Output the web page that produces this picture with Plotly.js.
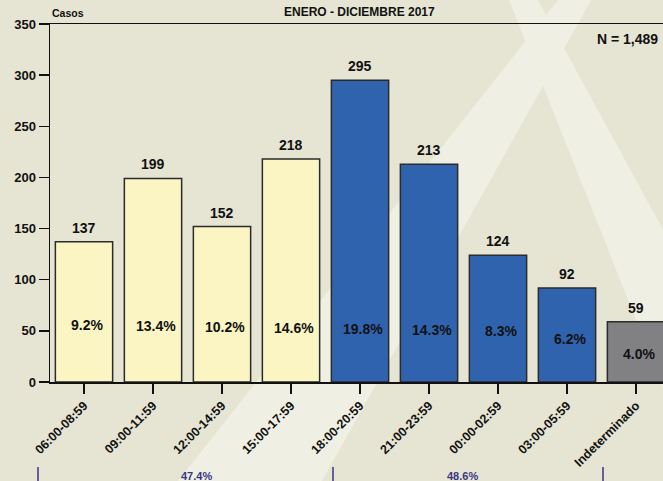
<!DOCTYPE html>
<html>
<head>
<meta charset="utf-8">
<script src="https://cdn.plot.ly/plotly-3.0.1.min.js"></script>
<style>html,body{margin:0;padding:0;background:#e6e5d3;}#chart{width:663px;height:481px;}</style>
</head>
<body>
<div id="chart"></div>
<script>
// ---- data ----
var categories = ["06:00-08:59","09:00-11:59","12:00-14:59","15:00-17:59","18:00-20:59","21:00-23:59","00:00-02:59","03:00-05:59","Indeterminado"];
var casos = [137,199,152,218,295,213,124,92,59];
var porcentajes = [9.2,13.4,10.2,14.6,19.8,14.3,8.3,6.2,4.0];
var grupos = ["diurno","diurno","diurno","diurno","nocturno","nocturno","nocturno","nocturno","indeterminado"];
var gruposPct = ["47.4%","48.6%"];
var titulo = "ENERO - DICIEMBRE 2017";
var total = "N = 1,489";
var yTicks = [0,50,100,150,200,250,300,350];

// ---- styling ----
var W = 663, H = 481, L = 50, R = 0, T = 24, B = 99;
var pw = W - L - R, ph = H - T - B;
var colorMap = {diurno:"#fbf5c4", nocturno:"#3063ae", indeterminado:"#818083"};
var font = "Liberation Sans, Arial, sans-serif";
function px(x){ return (x - L) / pw; }
function py(y){ return (H - B - y) / ph; }
function poly(pts){
  return "M" + pts.map(function(p){ return px(p[0]).toFixed(4) + "," + py(p[1]).toFixed(4); }).join(" L") + " Z";
}

var trace = {
  type: "bar",
  x: categories,
  y: casos,
  marker: {color: grupos.map(function(g){ return colorMap[g]; }), line: {color: "#2b2b2b", width: 1.5}},
  hoverinfo: "skip"
};

var annotations = [];
casos.forEach(function(v, i){
  annotations.push({x: categories[i], y: v, yshift: 14, text: "<b>" + v + "</b>", showarrow: false,
    xref: "x", yref: "y", yanchor: "middle", font: {family: font, size: 14, color: "#111"}});
  annotations.push({x: categories[i], y: Math.min(56 - i * 1.1, v * 0.46), xshift: 3, text: "<b>" + porcentajes[i].toFixed(1) + "%</b>", showarrow: false,
    xref: "x", yref: "y", yanchor: "middle", font: {family: font, size: 14, color: "#111"}});
});
annotations.push({xref: "paper", yref: "paper", x: px(50), y: py(13), xanchor: "left", yanchor: "middle", showarrow: false,
  text: "<b>Casos</b>", font: {family: font, size: 10.5, color: "#111"}});
annotations.push({xref: "paper", yref: "paper", x: px(359), y: py(12), xanchor: "center", yanchor: "middle", showarrow: false,
  text: "<b>" + titulo + "</b>", font: {family: font, size: 12, color: "#111"}});
annotations.push({xref: "paper", yref: "paper", x: px(660), y: py(39), xanchor: "right", yanchor: "middle", showarrow: false,
  text: "<b>" + total + "</b>", font: {family: font, size: 14, color: "#111"}});
annotations.push({xref: "paper", yref: "paper", x: px(196), y: py(468), xanchor: "center", yanchor: "top", showarrow: false,
  text: "<b>" + gruposPct[0] + "</b>", font: {family: font, size: 11, color: "#3a3585"}});
annotations.push({xref: "paper", yref: "paper", x: px(462), y: py(468), xanchor: "center", yanchor: "top", showarrow: false,
  text: "<b>" + gruposPct[1] + "</b>", font: {family: font, size: 11, color: "#3a3585"}});

var light = "#f0efe3";
var shapes = [
  {type: "path", xref: "paper", yref: "paper", layer: "below", line: {width: 0}, fillcolor: light,
   path: poly([[562,-5],[594,-5],[322,481],[178,481]])},
  {type: "path", xref: "paper", yref: "paper", layer: "below", line: {width: 0}, fillcolor: light,
   path: poly([[507,-5],[535,-5],[800,481],[700,481]])}
];
[38, 333, 603].forEach(function(xp){
  shapes.push({type: "line", xref: "paper", yref: "paper", x0: px(xp), x1: px(xp), y0: py(467), y1: py(485),
    line: {color: "#3a3585", width: 1.5}});
});

var layout = {
  width: W, height: H,
  margin: {l: L, r: R, t: T, b: B, pad: 0},
  paper_bgcolor: "#e6e5d3",
  plot_bgcolor: "rgba(0,0,0,0)",
  showlegend: false,
  bargap: 0.17,
  xaxis: {
    type: "category",
    range: [-(84 - L) / 69, -(84 - L) / 69 + pw / 69],
    showline: true, linecolor: "#111", linewidth: 1.5, mirror: true,
    ticks: "outside", ticklen: 10, tickwidth: 1.5, tickcolor: "#111",
    tickangle: -45, showgrid: false, zeroline: false,
    tickfont: {family: font, size: 12.5, color: "#111", weight: "bold"},
    fixedrange: true
  },
  yaxis: {
    range: [0, 350], tickvals: yTicks,
    showline: true, linecolor: "#111", linewidth: 1.5,
    ticks: "outside", ticklen: 10, tickwidth: 1.5, tickcolor: "#111",
    showgrid: false, zeroline: false,
    tickfont: {family: font, size: 13, color: "#111", weight: "bold"},
    fixedrange: true
  },
  annotations: annotations,
  shapes: shapes
};

Plotly.newPlot("chart", [trace], layout, {displayModeBar: false, staticPlot: true});
</script>
</body>
</html>
